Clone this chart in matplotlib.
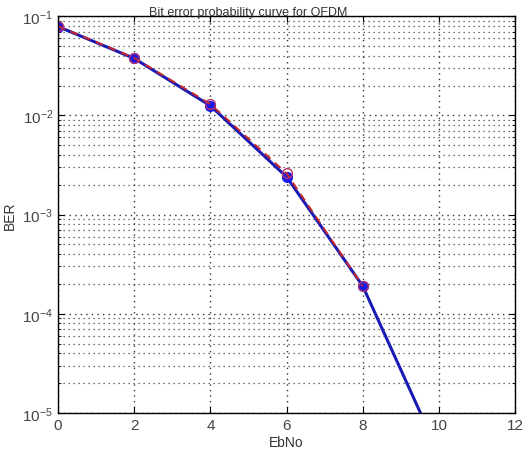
import numpy as np
import matplotlib
matplotlib.use('Agg')
import matplotlib.pyplot as plt
from matplotlib.ticker import LogLocator, NullFormatter

plt.rcParams['font.family'] = ['Liberation Sans', 'DejaVu Sans']
plt.rcParams['mathtext.fontset'] = 'custom'
plt.rcParams['mathtext.rm'] = 'Liberation Sans'

# EbNo (dB) and BER values
ebno_theory = [0, 2, 4, 6, 8, 10]
ber_theory = [0.0786, 0.0375, 0.0125, 0.0024, 1.9e-4, 3.9e-6]
ebno_sim = [0, 2, 4, 6, 8]
ber_sim = [0.0790, 0.0380, 0.0130, 0.0026, 1.9e-4]

fig = plt.figure(figsize=(5.23, 4.52), dpi=100)
ax = fig.add_axes([0.111, 0.084, 0.874, 0.878])

ax.semilogy(ebno_theory, ber_theory, color='#1a1ab4', linestyle='-', linewidth=2.2,
            marker='o', markersize=7, markerfacecolor='#1a1ae6', markeredgecolor='#1a1ae6')
ax.semilogy(ebno_sim, ber_sim, color='#c82828', linestyle=(0, (4, 3)), linewidth=1.4,
            marker='o', markersize=7, markerfacecolor='none', markeredgecolor='#b43070',
            markeredgewidth=1.0)

ax.set_xlim(0, 12)
ax.set_ylim(1e-5, 1e-1)
ax.set_xticks([0, 2, 4, 6, 8, 10, 12])
ax.yaxis.set_major_locator(LogLocator(base=10, numticks=10))
ax.yaxis.set_minor_locator(LogLocator(base=10, subs=np.arange(2, 10), numticks=20))
ax.yaxis.set_minor_formatter(NullFormatter())

ax.grid(True, which='major', axis='both', linestyle=(0, (1, 3)), color='#333333', linewidth=1.0)
ax.grid(True, which='minor', axis='y', linestyle=(0, (1, 3)), color='#444444', linewidth=0.9)

ax.tick_params(which='both', direction='in', top=True, right=True, labelsize=11, colors='#444444')
ax.tick_params(which='major', length=4, color='black')
ax.tick_params(which='minor', length=2, color='black')
for s in ax.spines.values():
    s.set_linewidth(1.0)

ax.set_xlabel('EbNo', fontsize=10, labelpad=2, color='#333333')
ax.set_ylabel('BER', fontsize=10, labelpad=4, color='#333333')
fig.text(248 / 523, 1 - 13 / 452, 'Bit error probability curve for OFDM', fontsize=9,
         ha='center', va='center', color='#333333')

fig.savefig('out.png', dpi=100)
